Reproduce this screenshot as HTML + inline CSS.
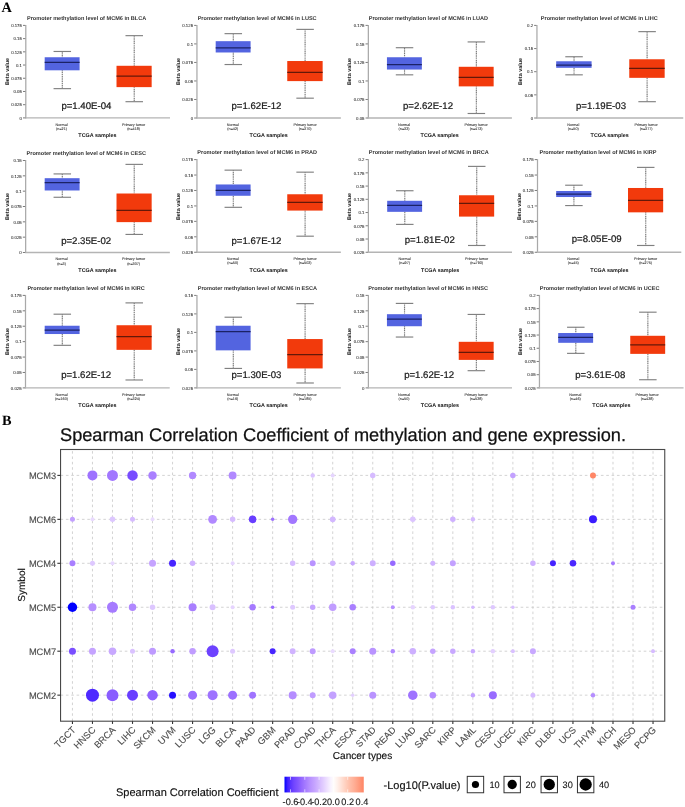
<!DOCTYPE html>
<html lang="en">
<head>
<meta charset="utf-8">
<title>Promoter methylation level of MCM6 and Spearman correlation</title>
<style>
html,body{margin:0;padding:0;background:#fff;}
body{width:685px;height:807px;overflow:hidden;font-family:"Liberation Sans",sans-serif;}
svg{display:block;}
text{font-family:"Liberation Sans",sans-serif;text-rendering:geometricPrecision;}
.bt{font-size:5.56px;font-weight:bold;fill:#333;}
.tk{font-size:4.3px;fill:#333;stroke:#333;stroke-width:0.08px;}
.ct{font-size:3.72px;fill:#333;stroke:#333;stroke-width:0.08px;}
.at{font-size:5.4px;font-weight:bold;fill:#1a1a1a;}
.ay{font-size:5.4px;font-weight:bold;fill:#1a1a1a;}
.pv{font-size:9.62px;fill:#1a1a1a;stroke:#1a1a1a;stroke-width:0.22px;}
.mt{font-size:18.2px;fill:#111;stroke:#111;stroke-width:0.25px;}
.ax{font-size:9.3px;fill:#4d4d4d;stroke:#4d4d4d;stroke-width:0.12px;}
.axx{font-size:9.3px;fill:#4d4d4d;stroke:#4d4d4d;stroke-width:0.12px;}
.al{font-size:10.1px;fill:#111;stroke:#111;stroke-width:0.15px;}
.lt{font-size:11px;fill:#111;stroke:#111;stroke-width:0.15px;}
.ll{font-size:9.2px;fill:#111;stroke:#111;stroke-width:0.1px;}
.pl{font-family:"Liberation Serif",serif;font-weight:bold;font-size:14.3px;fill:#000;}
</style>
</head>
<body>
<svg width="685" height="807" viewBox="0 0 685 807">
<rect width="685" height="807" fill="#fff"/>
<g class="bp">
<text class="bt" transform="translate(86.63 20.18) scale(1 1)" text-anchor="middle">Promoter methylation level of MCM6 in BLCA</text>
<line x1="25.8" y1="24.9" x2="25.8" y2="118.5" stroke="#a9a9a9" stroke-width="1.25"/>
<line x1="25.2" y1="117.9" x2="170" y2="117.9" stroke="#b4b4b4" stroke-width="1.3"/>
<line x1="23" y1="25.4" x2="25.3" y2="25.4" stroke="#5a5a5a" stroke-width="0.8"/>
<text class="tk" transform="translate(21.9 27.15) scale(1 1)" text-anchor="end">0.175</text>
<line x1="23" y1="38.61" x2="25.3" y2="38.61" stroke="#5a5a5a" stroke-width="0.8"/>
<text class="tk" transform="translate(21.9 40.36) scale(1 1)" text-anchor="end">0.15</text>
<line x1="23" y1="51.83" x2="25.3" y2="51.83" stroke="#5a5a5a" stroke-width="0.8"/>
<text class="tk" transform="translate(21.9 53.58) scale(1 1)" text-anchor="end">0.125</text>
<line x1="23" y1="65.04" x2="25.3" y2="65.04" stroke="#5a5a5a" stroke-width="0.8"/>
<text class="tk" transform="translate(21.9 66.79) scale(1 1)" text-anchor="end">0.1</text>
<line x1="23" y1="78.26" x2="25.3" y2="78.26" stroke="#5a5a5a" stroke-width="0.8"/>
<text class="tk" transform="translate(21.9 80.01) scale(1 1)" text-anchor="end">0.075</text>
<line x1="23" y1="91.47" x2="25.3" y2="91.47" stroke="#5a5a5a" stroke-width="0.8"/>
<text class="tk" transform="translate(21.9 93.22) scale(1 1)" text-anchor="end">0.05</text>
<line x1="23" y1="104.69" x2="25.3" y2="104.69" stroke="#5a5a5a" stroke-width="0.8"/>
<text class="tk" transform="translate(21.9 106.44) scale(1 1)" text-anchor="end">0.025</text>
<line x1="23" y1="117.9" x2="25.3" y2="117.9" stroke="#5a5a5a" stroke-width="0.8"/>
<text class="tk" transform="translate(21.9 119.65) scale(1 1)" text-anchor="end">0</text>
<line x1="62.3" y1="51.47" x2="62.3" y2="57.25" stroke="#7a7a7a" stroke-width="1.15" stroke-dasharray="1.2 0.6"/>
<line x1="62.3" y1="70.31" x2="62.3" y2="88.64" stroke="#7a7a7a" stroke-width="1.15" stroke-dasharray="1.2 0.6"/>
<line x1="53.55" y1="51.47" x2="71.05" y2="51.47" stroke="#808080" stroke-width="1.15"/>
<line x1="53.55" y1="88.64" x2="71.05" y2="88.64" stroke="#808080" stroke-width="1.15"/>
<rect x="44.69" y="57.25" width="34.9" height="13.06" fill="#5364e0"/>
<line x1="44.69" y1="62.27" x2="79.6" y2="62.27" stroke="#1b2266" stroke-width="1.25"/>
<line x1="134.23" y1="35.66" x2="134.23" y2="65.79" stroke="#7a7a7a" stroke-width="1.15" stroke-dasharray="1.2 0.6"/>
<line x1="134.23" y1="87.13" x2="134.23" y2="101.69" stroke="#7a7a7a" stroke-width="1.15" stroke-dasharray="1.2 0.6"/>
<line x1="125.48" y1="35.66" x2="142.98" y2="35.66" stroke="#808080" stroke-width="1.15"/>
<line x1="125.48" y1="101.69" x2="142.98" y2="101.69" stroke="#808080" stroke-width="1.15"/>
<rect x="116.51" y="65.79" width="35.15" height="21.34" fill="#f23a0c"/>
<line x1="116.51" y1="76.08" x2="151.66" y2="76.08" stroke="#641808" stroke-width="1.25"/>
<text class="pv" transform="translate(86.38 109.43) scale(1 1)" text-anchor="middle">p=1.40E-04</text>
<text class="ct" transform="translate(61.52 125.6) scale(1 1)" text-anchor="middle">Normal</text>
<text class="ct" transform="translate(61.52 130.1) scale(1 1)" text-anchor="middle">(n=21)</text>
<text class="ct" transform="translate(133.58 125.6) scale(1 1)" text-anchor="middle">Primary tumor</text>
<text class="ct" transform="translate(133.58 130.1) scale(1 1)" text-anchor="middle">(n=418)</text>
<text class="at" transform="translate(97.42 137.35) scale(1 1)" text-anchor="middle">TCGA samples</text>
<text class="ay" transform="translate(9.23 71.56) rotate(-90)" text-anchor="middle">Beta value</text>
</g>
<g class="bp">
<text class="bt" transform="translate(257.12 20.18) scale(1 1)" text-anchor="middle">Promoter methylation level of MCM6 in LUSC</text>
<line x1="196.95" y1="24.9" x2="196.95" y2="118.6" stroke="#a9a9a9" stroke-width="1.25"/>
<line x1="196.35" y1="118" x2="340.85" y2="118" stroke="#b4b4b4" stroke-width="1.3"/>
<line x1="194.15" y1="25.4" x2="196.45" y2="25.4" stroke="#5a5a5a" stroke-width="0.8"/>
<text class="tk" transform="translate(193.05 27.15) scale(1 1)" text-anchor="end">0.125</text>
<line x1="194.15" y1="43.92" x2="196.45" y2="43.92" stroke="#5a5a5a" stroke-width="0.8"/>
<text class="tk" transform="translate(193.05 45.67) scale(1 1)" text-anchor="end">0.1</text>
<line x1="194.15" y1="62.44" x2="196.45" y2="62.44" stroke="#5a5a5a" stroke-width="0.8"/>
<text class="tk" transform="translate(193.05 64.19) scale(1 1)" text-anchor="end">0.075</text>
<line x1="194.15" y1="80.96" x2="196.45" y2="80.96" stroke="#5a5a5a" stroke-width="0.8"/>
<text class="tk" transform="translate(193.05 82.71) scale(1 1)" text-anchor="end">0.05</text>
<line x1="194.15" y1="99.48" x2="196.45" y2="99.48" stroke="#5a5a5a" stroke-width="0.8"/>
<text class="tk" transform="translate(193.05 101.23) scale(1 1)" text-anchor="end">0.025</text>
<line x1="194.15" y1="118" x2="196.45" y2="118" stroke="#5a5a5a" stroke-width="0.8"/>
<text class="tk" transform="translate(193.05 119.75) scale(1 1)" text-anchor="end">0</text>
<line x1="233.29" y1="33.65" x2="233.29" y2="41.18" stroke="#7a7a7a" stroke-width="1.15" stroke-dasharray="1.2 0.6"/>
<line x1="233.29" y1="52.48" x2="233.29" y2="64.53" stroke="#7a7a7a" stroke-width="1.15" stroke-dasharray="1.2 0.6"/>
<line x1="224.54" y1="33.65" x2="242.04" y2="33.65" stroke="#808080" stroke-width="1.15"/>
<line x1="224.54" y1="64.53" x2="242.04" y2="64.53" stroke="#808080" stroke-width="1.15"/>
<rect x="215.69" y="41.18" width="34.9" height="11.3" fill="#5364e0"/>
<line x1="215.69" y1="47.96" x2="250.59" y2="47.96" stroke="#1b2266" stroke-width="1.25"/>
<line x1="305.1" y1="29.38" x2="305.1" y2="61.02" stroke="#7a7a7a" stroke-width="1.15" stroke-dasharray="1.2 0.6"/>
<line x1="305.1" y1="81.1" x2="305.1" y2="98.18" stroke="#7a7a7a" stroke-width="1.15" stroke-dasharray="1.2 0.6"/>
<line x1="296.35" y1="29.38" x2="313.85" y2="29.38" stroke="#808080" stroke-width="1.15"/>
<line x1="296.35" y1="98.18" x2="313.85" y2="98.18" stroke="#808080" stroke-width="1.15"/>
<rect x="287.25" y="61.02" width="35.4" height="20.09" fill="#f23a0c"/>
<line x1="287.25" y1="72.32" x2="322.66" y2="72.32" stroke="#641808" stroke-width="1.25"/>
<text class="pv" transform="translate(256.49 108.93) scale(1 1)" text-anchor="middle">p=1.62E-12</text>
<text class="ct" transform="translate(232.76 125.7) scale(1 1)" text-anchor="middle">Normal</text>
<text class="ct" transform="translate(232.76 130.2) scale(1 1)" text-anchor="middle">(n=42)</text>
<text class="ct" transform="translate(305.08 125.7) scale(1 1)" text-anchor="middle">Primary tumor</text>
<text class="ct" transform="translate(305.08 130.2) scale(1 1)" text-anchor="middle">(n=370)</text>
<text class="at" transform="translate(268.67 137.35) scale(1 1)" text-anchor="middle">TCGA samples</text>
<text class="ay" transform="translate(179.72 71.56) rotate(-90)" text-anchor="middle">Beta value</text>
</g>
<g class="bp">
<text class="bt" transform="translate(428.37 20.18) scale(1 1)" text-anchor="middle">Promoter methylation level of MCM6 in LUAD</text>
<line x1="368.35" y1="24.9" x2="368.35" y2="118.6" stroke="#a9a9a9" stroke-width="1.25"/>
<line x1="367.75" y1="118" x2="511.9" y2="118" stroke="#b4b4b4" stroke-width="1.3"/>
<line x1="365.55" y1="25.4" x2="367.85" y2="25.4" stroke="#5a5a5a" stroke-width="0.8"/>
<text class="tk" transform="translate(364.45 27.15) scale(1 1)" text-anchor="end">0.175</text>
<line x1="365.55" y1="43.92" x2="367.85" y2="43.92" stroke="#5a5a5a" stroke-width="0.8"/>
<text class="tk" transform="translate(364.45 45.67) scale(1 1)" text-anchor="end">0.15</text>
<line x1="365.55" y1="62.44" x2="367.85" y2="62.44" stroke="#5a5a5a" stroke-width="0.8"/>
<text class="tk" transform="translate(364.45 64.19) scale(1 1)" text-anchor="end">0.125</text>
<line x1="365.55" y1="80.96" x2="367.85" y2="80.96" stroke="#5a5a5a" stroke-width="0.8"/>
<text class="tk" transform="translate(364.45 82.71) scale(1 1)" text-anchor="end">0.1</text>
<line x1="365.55" y1="99.48" x2="367.85" y2="99.48" stroke="#5a5a5a" stroke-width="0.8"/>
<text class="tk" transform="translate(364.45 101.23) scale(1 1)" text-anchor="end">0.075</text>
<line x1="365.55" y1="118" x2="367.85" y2="118" stroke="#5a5a5a" stroke-width="0.8"/>
<text class="tk" transform="translate(364.45 119.75) scale(1 1)" text-anchor="end">0.05</text>
<line x1="404.54" y1="47.71" x2="404.54" y2="57.25" stroke="#7a7a7a" stroke-width="1.15" stroke-dasharray="1.2 0.6"/>
<line x1="404.54" y1="69.55" x2="404.54" y2="74.83" stroke="#7a7a7a" stroke-width="1.15" stroke-dasharray="1.2 0.6"/>
<line x1="395.79" y1="47.71" x2="413.29" y2="47.71" stroke="#808080" stroke-width="1.15"/>
<line x1="395.79" y1="74.83" x2="413.29" y2="74.83" stroke="#808080" stroke-width="1.15"/>
<rect x="386.94" y="57.25" width="34.9" height="12.3" fill="#5364e0"/>
<line x1="386.94" y1="64.53" x2="421.84" y2="64.53" stroke="#1b2266" stroke-width="1.25"/>
<line x1="476.36" y1="41.93" x2="476.36" y2="66.79" stroke="#7a7a7a" stroke-width="1.15" stroke-dasharray="1.2 0.6"/>
<line x1="476.36" y1="86.38" x2="476.36" y2="113.49" stroke="#7a7a7a" stroke-width="1.15" stroke-dasharray="1.2 0.6"/>
<line x1="467.61" y1="41.93" x2="485.11" y2="41.93" stroke="#808080" stroke-width="1.15"/>
<line x1="467.61" y1="113.49" x2="485.11" y2="113.49" stroke="#808080" stroke-width="1.15"/>
<rect x="458.75" y="66.79" width="34.9" height="19.59" fill="#f23a0c"/>
<line x1="458.75" y1="77.34" x2="493.66" y2="77.34" stroke="#641808" stroke-width="1.25"/>
<text class="pv" transform="translate(428 109.43) scale(1 1)" text-anchor="middle">p=2.62E-12</text>
<text class="ct" transform="translate(404.02 125.7) scale(1 1)" text-anchor="middle">Normal</text>
<text class="ct" transform="translate(404.02 130.2) scale(1 1)" text-anchor="middle">(n=32)</text>
<text class="ct" transform="translate(476.08 125.7) scale(1 1)" text-anchor="middle">Primary tumor</text>
<text class="ct" transform="translate(476.08 130.2) scale(1 1)" text-anchor="middle">(n=473)</text>
<text class="at" transform="translate(439.67 137.35) scale(1 1)" text-anchor="middle">TCGA samples</text>
<text class="ay" transform="translate(351.23 71.56) rotate(-90)" text-anchor="middle">Beta value</text>
</g>
<g class="bp">
<text class="bt" transform="translate(599.25 20.18) scale(1 1)" text-anchor="middle">Promoter methylation level of MCM6 in LIHC</text>
<line x1="536.95" y1="24.9" x2="536.95" y2="118.6" stroke="#a9a9a9" stroke-width="1.25"/>
<line x1="536.35" y1="118" x2="683.25" y2="118" stroke="#b4b4b4" stroke-width="1.3"/>
<line x1="534.15" y1="25.4" x2="536.45" y2="25.4" stroke="#5a5a5a" stroke-width="0.8"/>
<text class="tk" transform="translate(533.05 27.15) scale(1 1)" text-anchor="end">0.2</text>
<line x1="534.15" y1="48.55" x2="536.45" y2="48.55" stroke="#5a5a5a" stroke-width="0.8"/>
<text class="tk" transform="translate(533.05 50.3) scale(1 1)" text-anchor="end">0.15</text>
<line x1="534.15" y1="71.7" x2="536.45" y2="71.7" stroke="#5a5a5a" stroke-width="0.8"/>
<text class="tk" transform="translate(533.05 73.45) scale(1 1)" text-anchor="end">0.1</text>
<line x1="534.15" y1="94.85" x2="536.45" y2="94.85" stroke="#5a5a5a" stroke-width="0.8"/>
<text class="tk" transform="translate(533.05 96.6) scale(1 1)" text-anchor="end">0.05</text>
<line x1="534.15" y1="118" x2="536.45" y2="118" stroke="#5a5a5a" stroke-width="0.8"/>
<text class="tk" transform="translate(533.05 119.75) scale(1 1)" text-anchor="end">0</text>
<line x1="574.04" y1="56.75" x2="574.04" y2="61.27" stroke="#7a7a7a" stroke-width="1.15" stroke-dasharray="1.2 0.6"/>
<line x1="574.04" y1="67.8" x2="574.04" y2="74.83" stroke="#7a7a7a" stroke-width="1.15" stroke-dasharray="1.2 0.6"/>
<line x1="565.29" y1="56.75" x2="582.79" y2="56.75" stroke="#808080" stroke-width="1.15"/>
<line x1="565.29" y1="74.83" x2="582.79" y2="74.83" stroke="#808080" stroke-width="1.15"/>
<rect x="556.19" y="61.27" width="35.4" height="6.53" fill="#5364e0"/>
<line x1="556.19" y1="65.03" x2="591.59" y2="65.03" stroke="#1b2266" stroke-width="1.25"/>
<line x1="647.11" y1="31.64" x2="647.11" y2="59.26" stroke="#7a7a7a" stroke-width="1.15" stroke-dasharray="1.2 0.6"/>
<line x1="647.11" y1="77.84" x2="647.11" y2="101.69" stroke="#7a7a7a" stroke-width="1.15" stroke-dasharray="1.2 0.6"/>
<line x1="638.36" y1="31.64" x2="655.86" y2="31.64" stroke="#808080" stroke-width="1.15"/>
<line x1="638.36" y1="101.69" x2="655.86" y2="101.69" stroke="#808080" stroke-width="1.15"/>
<rect x="629.26" y="59.26" width="35.4" height="18.58" fill="#f23a0c"/>
<line x1="629.26" y1="68.3" x2="664.66" y2="68.3" stroke="#641808" stroke-width="1.25"/>
<text class="pv" transform="translate(601.01 109.43) scale(1 1)" text-anchor="middle">p=1.19E-03</text>
<text class="ct" transform="translate(573.26 125.7) scale(1 1)" text-anchor="middle">Normal</text>
<text class="ct" transform="translate(573.26 130.2) scale(1 1)" text-anchor="middle">(n=50)</text>
<text class="ct" transform="translate(646.08 125.7) scale(1 1)" text-anchor="middle">Primary tumor</text>
<text class="ct" transform="translate(646.08 130.2) scale(1 1)" text-anchor="middle">(n=377)</text>
<text class="at" transform="translate(609.67 137.35) scale(1 1)" text-anchor="middle">TCGA samples</text>
<text class="ay" transform="translate(522.23 71.56) rotate(-90)" text-anchor="middle">Beta value</text>
</g>
<g class="bp">
<text class="bt" transform="translate(86.25 154.68) scale(1 1)" text-anchor="middle">Promoter methylation level of MCM6 in CESC</text>
<line x1="25.65" y1="160" x2="25.65" y2="253.1" stroke="#a9a9a9" stroke-width="1.25"/>
<line x1="25.05" y1="252.5" x2="169.85" y2="252.5" stroke="#b4b4b4" stroke-width="1.3"/>
<line x1="22.85" y1="160.5" x2="25.15" y2="160.5" stroke="#5a5a5a" stroke-width="0.8"/>
<text class="tk" transform="translate(21.75 162.25) scale(1 1)" text-anchor="end">0.15</text>
<line x1="22.85" y1="175.83" x2="25.15" y2="175.83" stroke="#5a5a5a" stroke-width="0.8"/>
<text class="tk" transform="translate(21.75 177.58) scale(1 1)" text-anchor="end">0.125</text>
<line x1="22.85" y1="191.17" x2="25.15" y2="191.17" stroke="#5a5a5a" stroke-width="0.8"/>
<text class="tk" transform="translate(21.75 192.92) scale(1 1)" text-anchor="end">0.1</text>
<line x1="22.85" y1="206.5" x2="25.15" y2="206.5" stroke="#5a5a5a" stroke-width="0.8"/>
<text class="tk" transform="translate(21.75 208.25) scale(1 1)" text-anchor="end">0.075</text>
<line x1="22.85" y1="221.83" x2="25.15" y2="221.83" stroke="#5a5a5a" stroke-width="0.8"/>
<text class="tk" transform="translate(21.75 223.58) scale(1 1)" text-anchor="end">0.05</text>
<line x1="22.85" y1="237.17" x2="25.15" y2="237.17" stroke="#5a5a5a" stroke-width="0.8"/>
<text class="tk" transform="translate(21.75 238.92) scale(1 1)" text-anchor="end">0.025</text>
<line x1="22.85" y1="252.5" x2="25.15" y2="252.5" stroke="#5a5a5a" stroke-width="0.8"/>
<text class="tk" transform="translate(21.75 254.25) scale(1 1)" text-anchor="end">0</text>
<line x1="62.3" y1="173.92" x2="62.3" y2="178.19" stroke="#7a7a7a" stroke-width="1.15" stroke-dasharray="1.2 0.6"/>
<line x1="62.3" y1="190.49" x2="62.3" y2="197.27" stroke="#7a7a7a" stroke-width="1.15" stroke-dasharray="1.2 0.6"/>
<line x1="53.55" y1="173.92" x2="71.05" y2="173.92" stroke="#808080" stroke-width="1.15"/>
<line x1="53.55" y1="197.27" x2="71.05" y2="197.27" stroke="#808080" stroke-width="1.15"/>
<rect x="44.69" y="178.19" width="34.9" height="12.3" fill="#5364e0"/>
<line x1="44.69" y1="182.61" x2="79.6" y2="182.61" stroke="#1b2266" stroke-width="1.25"/>
<line x1="134.23" y1="164.38" x2="134.23" y2="193.51" stroke="#7a7a7a" stroke-width="1.15" stroke-dasharray="1.2 0.6"/>
<line x1="134.23" y1="222.13" x2="134.23" y2="234.43" stroke="#7a7a7a" stroke-width="1.15" stroke-dasharray="1.2 0.6"/>
<line x1="125.48" y1="164.38" x2="142.98" y2="164.38" stroke="#808080" stroke-width="1.15"/>
<line x1="125.48" y1="234.43" x2="142.98" y2="234.43" stroke="#808080" stroke-width="1.15"/>
<rect x="116.51" y="193.51" width="35.15" height="28.62" fill="#f23a0c"/>
<line x1="116.51" y1="210.33" x2="151.66" y2="210.33" stroke="#641808" stroke-width="1.25"/>
<text class="pv" transform="translate(86.13 244.43) scale(1 1)" text-anchor="middle">p=2.35E-02</text>
<text class="ct" transform="translate(61.52 260.2) scale(1 1)" text-anchor="middle">Normal</text>
<text class="ct" transform="translate(61.52 264.7) scale(1 1)" text-anchor="middle">(n=3)</text>
<text class="ct" transform="translate(133.58 260.2) scale(1 1)" text-anchor="middle">Primary tumor</text>
<text class="ct" transform="translate(133.58 264.7) scale(1 1)" text-anchor="middle">(n=307)</text>
<text class="at" transform="translate(97.42 272.35) scale(1 1)" text-anchor="middle">TCGA samples</text>
<text class="ay" transform="translate(9.23 206.56) rotate(-90)" text-anchor="middle">Beta value</text>
</g>
<g class="bp">
<text class="bt" transform="translate(257.12 154.17) scale(1 1)" text-anchor="middle">Promoter methylation level of MCM6 in PRAD</text>
<line x1="196.95" y1="159.1" x2="196.95" y2="252.85" stroke="#a9a9a9" stroke-width="1.25"/>
<line x1="196.35" y1="252.25" x2="340.85" y2="252.25" stroke="#b4b4b4" stroke-width="1.3"/>
<line x1="194.15" y1="159.6" x2="196.45" y2="159.6" stroke="#5a5a5a" stroke-width="0.8"/>
<text class="tk" transform="translate(193.05 161.35) scale(1 1)" text-anchor="end">0.175</text>
<line x1="194.15" y1="175.04" x2="196.45" y2="175.04" stroke="#5a5a5a" stroke-width="0.8"/>
<text class="tk" transform="translate(193.05 176.79) scale(1 1)" text-anchor="end">0.15</text>
<line x1="194.15" y1="190.48" x2="196.45" y2="190.48" stroke="#5a5a5a" stroke-width="0.8"/>
<text class="tk" transform="translate(193.05 192.23) scale(1 1)" text-anchor="end">0.125</text>
<line x1="194.15" y1="205.93" x2="196.45" y2="205.93" stroke="#5a5a5a" stroke-width="0.8"/>
<text class="tk" transform="translate(193.05 207.68) scale(1 1)" text-anchor="end">0.1</text>
<line x1="194.15" y1="221.37" x2="196.45" y2="221.37" stroke="#5a5a5a" stroke-width="0.8"/>
<text class="tk" transform="translate(193.05 223.12) scale(1 1)" text-anchor="end">0.075</text>
<line x1="194.15" y1="236.81" x2="196.45" y2="236.81" stroke="#5a5a5a" stroke-width="0.8"/>
<text class="tk" transform="translate(193.05 238.56) scale(1 1)" text-anchor="end">0.05</text>
<line x1="194.15" y1="252.25" x2="196.45" y2="252.25" stroke="#5a5a5a" stroke-width="0.8"/>
<text class="tk" transform="translate(193.05 254) scale(1 1)" text-anchor="end">0.025</text>
<line x1="233.29" y1="170.15" x2="233.29" y2="184.47" stroke="#7a7a7a" stroke-width="1.15" stroke-dasharray="1.2 0.6"/>
<line x1="233.29" y1="195.76" x2="233.29" y2="207.32" stroke="#7a7a7a" stroke-width="1.15" stroke-dasharray="1.2 0.6"/>
<line x1="224.54" y1="170.15" x2="242.04" y2="170.15" stroke="#808080" stroke-width="1.15"/>
<line x1="224.54" y1="207.32" x2="242.04" y2="207.32" stroke="#808080" stroke-width="1.15"/>
<rect x="215.69" y="184.47" width="34.9" height="11.3" fill="#5364e0"/>
<line x1="215.69" y1="190.49" x2="250.59" y2="190.49" stroke="#1b2266" stroke-width="1.25"/>
<line x1="305.1" y1="172.16" x2="305.1" y2="194.26" stroke="#7a7a7a" stroke-width="1.15" stroke-dasharray="1.2 0.6"/>
<line x1="305.1" y1="210.58" x2="305.1" y2="236.19" stroke="#7a7a7a" stroke-width="1.15" stroke-dasharray="1.2 0.6"/>
<line x1="296.35" y1="172.16" x2="313.85" y2="172.16" stroke="#808080" stroke-width="1.15"/>
<line x1="296.35" y1="236.19" x2="313.85" y2="236.19" stroke="#808080" stroke-width="1.15"/>
<rect x="287.25" y="194.26" width="35.4" height="16.32" fill="#f23a0c"/>
<line x1="287.25" y1="202.29" x2="322.66" y2="202.29" stroke="#641808" stroke-width="1.25"/>
<text class="pv" transform="translate(256.49 243.93) scale(1 1)" text-anchor="middle">p=1.67E-12</text>
<text class="ct" transform="translate(232.76 259.95) scale(1 1)" text-anchor="middle">Normal</text>
<text class="ct" transform="translate(232.76 264.45) scale(1 1)" text-anchor="middle">(n=50)</text>
<text class="ct" transform="translate(305.08 259.95) scale(1 1)" text-anchor="middle">Primary tumor</text>
<text class="ct" transform="translate(305.08 264.45) scale(1 1)" text-anchor="middle">(n=502)</text>
<text class="at" transform="translate(268.67 271.85) scale(1 1)" text-anchor="middle">TCGA samples</text>
<text class="ay" transform="translate(179.72 206.56) rotate(-90)" text-anchor="middle">Beta value</text>
</g>
<g class="bp">
<text class="bt" transform="translate(428.75 154.17) scale(1 1)" text-anchor="middle">Promoter methylation level of MCM6 in BRCA</text>
<line x1="368.4" y1="159.1" x2="368.4" y2="252.85" stroke="#a9a9a9" stroke-width="1.25"/>
<line x1="367.8" y1="252.25" x2="512" y2="252.25" stroke="#b4b4b4" stroke-width="1.3"/>
<line x1="365.6" y1="159.6" x2="367.9" y2="159.6" stroke="#5a5a5a" stroke-width="0.8"/>
<text class="tk" transform="translate(364.5 161.35) scale(1 1)" text-anchor="end">0.2</text>
<line x1="365.6" y1="172.84" x2="367.9" y2="172.84" stroke="#5a5a5a" stroke-width="0.8"/>
<text class="tk" transform="translate(364.5 174.59) scale(1 1)" text-anchor="end">0.175</text>
<line x1="365.6" y1="186.07" x2="367.9" y2="186.07" stroke="#5a5a5a" stroke-width="0.8"/>
<text class="tk" transform="translate(364.5 187.82) scale(1 1)" text-anchor="end">0.15</text>
<line x1="365.6" y1="199.31" x2="367.9" y2="199.31" stroke="#5a5a5a" stroke-width="0.8"/>
<text class="tk" transform="translate(364.5 201.06) scale(1 1)" text-anchor="end">0.125</text>
<line x1="365.6" y1="212.54" x2="367.9" y2="212.54" stroke="#5a5a5a" stroke-width="0.8"/>
<text class="tk" transform="translate(364.5 214.29) scale(1 1)" text-anchor="end">0.1</text>
<line x1="365.6" y1="225.78" x2="367.9" y2="225.78" stroke="#5a5a5a" stroke-width="0.8"/>
<text class="tk" transform="translate(364.5 227.53) scale(1 1)" text-anchor="end">0.075</text>
<line x1="365.6" y1="239.01" x2="367.9" y2="239.01" stroke="#5a5a5a" stroke-width="0.8"/>
<text class="tk" transform="translate(364.5 240.76) scale(1 1)" text-anchor="end">0.05</text>
<line x1="365.6" y1="252.25" x2="367.9" y2="252.25" stroke="#5a5a5a" stroke-width="0.8"/>
<text class="tk" transform="translate(364.5 254) scale(1 1)" text-anchor="end">0.025</text>
<line x1="404.79" y1="190.74" x2="404.79" y2="200.79" stroke="#7a7a7a" stroke-width="1.15" stroke-dasharray="1.2 0.6"/>
<line x1="404.79" y1="211.84" x2="404.79" y2="224.39" stroke="#7a7a7a" stroke-width="1.15" stroke-dasharray="1.2 0.6"/>
<line x1="396.04" y1="190.74" x2="413.54" y2="190.74" stroke="#808080" stroke-width="1.15"/>
<line x1="396.04" y1="224.39" x2="413.54" y2="224.39" stroke="#808080" stroke-width="1.15"/>
<rect x="387.19" y="200.79" width="34.9" height="11.05" fill="#5364e0"/>
<line x1="387.19" y1="205.31" x2="422.09" y2="205.31" stroke="#1b2266" stroke-width="1.25"/>
<line x1="476.73" y1="166.39" x2="476.73" y2="195.26" stroke="#7a7a7a" stroke-width="1.15" stroke-dasharray="1.2 0.6"/>
<line x1="476.73" y1="216.61" x2="476.73" y2="245.48" stroke="#7a7a7a" stroke-width="1.15" stroke-dasharray="1.2 0.6"/>
<line x1="467.98" y1="166.39" x2="485.48" y2="166.39" stroke="#808080" stroke-width="1.15"/>
<line x1="467.98" y1="245.48" x2="485.48" y2="245.48" stroke="#808080" stroke-width="1.15"/>
<rect x="459.01" y="195.26" width="35.15" height="21.34" fill="#f23a0c"/>
<line x1="459.01" y1="203.3" x2="494.16" y2="203.3" stroke="#641808" stroke-width="1.25"/>
<text class="pv" transform="translate(429.75 242.67) scale(1 1)" text-anchor="middle">p=1.81E-02</text>
<text class="ct" transform="translate(404.52 259.95) scale(1 1)" text-anchor="middle">Normal</text>
<text class="ct" transform="translate(404.52 264.45) scale(1 1)" text-anchor="middle">(n=97)</text>
<text class="ct" transform="translate(476.58 259.95) scale(1 1)" text-anchor="middle">Primary tumor</text>
<text class="ct" transform="translate(476.58 264.45) scale(1 1)" text-anchor="middle">(n=793)</text>
<text class="at" transform="translate(440.17 271.85) scale(1 1)" text-anchor="middle">TCGA samples</text>
<text class="ay" transform="translate(351.23 206.56) rotate(-90)" text-anchor="middle">Beta value</text>
</g>
<g class="bp">
<text class="bt" transform="translate(598 154.17) scale(1 1)" text-anchor="middle">Promoter methylation level of MCM6 in KIRP</text>
<line x1="537.5" y1="159.1" x2="537.5" y2="252.85" stroke="#a9a9a9" stroke-width="1.25"/>
<line x1="536.9" y1="252.25" x2="681.3" y2="252.25" stroke="#b4b4b4" stroke-width="1.3"/>
<line x1="534.7" y1="159.6" x2="537" y2="159.6" stroke="#5a5a5a" stroke-width="0.8"/>
<text class="tk" transform="translate(533.6 161.35) scale(1 1)" text-anchor="end">0.175</text>
<line x1="534.7" y1="175.04" x2="537" y2="175.04" stroke="#5a5a5a" stroke-width="0.8"/>
<text class="tk" transform="translate(533.6 176.79) scale(1 1)" text-anchor="end">0.15</text>
<line x1="534.7" y1="190.48" x2="537" y2="190.48" stroke="#5a5a5a" stroke-width="0.8"/>
<text class="tk" transform="translate(533.6 192.23) scale(1 1)" text-anchor="end">0.125</text>
<line x1="534.7" y1="205.93" x2="537" y2="205.93" stroke="#5a5a5a" stroke-width="0.8"/>
<text class="tk" transform="translate(533.6 207.68) scale(1 1)" text-anchor="end">0.1</text>
<line x1="534.7" y1="221.37" x2="537" y2="221.37" stroke="#5a5a5a" stroke-width="0.8"/>
<text class="tk" transform="translate(533.6 223.12) scale(1 1)" text-anchor="end">0.075</text>
<line x1="534.7" y1="236.81" x2="537" y2="236.81" stroke="#5a5a5a" stroke-width="0.8"/>
<text class="tk" transform="translate(533.6 238.56) scale(1 1)" text-anchor="end">0.05</text>
<line x1="534.7" y1="252.25" x2="537" y2="252.25" stroke="#5a5a5a" stroke-width="0.8"/>
<text class="tk" transform="translate(533.6 254) scale(1 1)" text-anchor="end">0.025</text>
<line x1="573.91" y1="185.22" x2="573.91" y2="190.99" stroke="#7a7a7a" stroke-width="1.15" stroke-dasharray="1.2 0.6"/>
<line x1="573.91" y1="197.02" x2="573.91" y2="205.56" stroke="#7a7a7a" stroke-width="1.15" stroke-dasharray="1.2 0.6"/>
<line x1="565.16" y1="185.22" x2="582.66" y2="185.22" stroke="#808080" stroke-width="1.15"/>
<line x1="565.16" y1="205.56" x2="582.66" y2="205.56" stroke="#808080" stroke-width="1.15"/>
<rect x="556.19" y="190.99" width="35.15" height="6.03" fill="#5364e0"/>
<line x1="556.19" y1="194.01" x2="591.34" y2="194.01" stroke="#1b2266" stroke-width="1.25"/>
<line x1="645.73" y1="167.39" x2="645.73" y2="187.98" stroke="#7a7a7a" stroke-width="1.15" stroke-dasharray="1.2 0.6"/>
<line x1="645.73" y1="212.34" x2="645.73" y2="245.48" stroke="#7a7a7a" stroke-width="1.15" stroke-dasharray="1.2 0.6"/>
<line x1="636.98" y1="167.39" x2="654.48" y2="167.39" stroke="#808080" stroke-width="1.15"/>
<line x1="636.98" y1="245.48" x2="654.48" y2="245.48" stroke="#808080" stroke-width="1.15"/>
<rect x="628" y="187.98" width="35.15" height="24.36" fill="#f23a0c"/>
<line x1="628" y1="200.28" x2="663.15" y2="200.28" stroke="#641808" stroke-width="1.25"/>
<text class="pv" transform="translate(596.74 242.17) scale(1 1)" text-anchor="middle">p=8.05E-09</text>
<text class="ct" transform="translate(573.26 259.95) scale(1 1)" text-anchor="middle">Normal</text>
<text class="ct" transform="translate(573.26 264.45) scale(1 1)" text-anchor="middle">(n=45)</text>
<text class="ct" transform="translate(645.58 259.95) scale(1 1)" text-anchor="middle">Primary tumor</text>
<text class="ct" transform="translate(645.58 264.45) scale(1 1)" text-anchor="middle">(n=275)</text>
<text class="at" transform="translate(609.42 271.85) scale(1 1)" text-anchor="middle">TCGA samples</text>
<text class="ay" transform="translate(520.72 206.56) rotate(-90)" text-anchor="middle">Beta value</text>
</g>
<g class="bp">
<text class="bt" transform="translate(86.13 290.18) scale(1 1)" text-anchor="middle">Promoter methylation level of MCM6 in KIRC</text>
<line x1="25.5" y1="294.9" x2="25.5" y2="388.5" stroke="#a9a9a9" stroke-width="1.25"/>
<line x1="24.9" y1="387.9" x2="169.7" y2="387.9" stroke="#b4b4b4" stroke-width="1.3"/>
<line x1="22.7" y1="295.4" x2="25" y2="295.4" stroke="#5a5a5a" stroke-width="0.8"/>
<text class="tk" transform="translate(21.6 297.15) scale(1 1)" text-anchor="end">0.175</text>
<line x1="22.7" y1="310.82" x2="25" y2="310.82" stroke="#5a5a5a" stroke-width="0.8"/>
<text class="tk" transform="translate(21.6 312.57) scale(1 1)" text-anchor="end">0.15</text>
<line x1="22.7" y1="326.23" x2="25" y2="326.23" stroke="#5a5a5a" stroke-width="0.8"/>
<text class="tk" transform="translate(21.6 327.98) scale(1 1)" text-anchor="end">0.125</text>
<line x1="22.7" y1="341.65" x2="25" y2="341.65" stroke="#5a5a5a" stroke-width="0.8"/>
<text class="tk" transform="translate(21.6 343.4) scale(1 1)" text-anchor="end">0.1</text>
<line x1="22.7" y1="357.07" x2="25" y2="357.07" stroke="#5a5a5a" stroke-width="0.8"/>
<text class="tk" transform="translate(21.6 358.82) scale(1 1)" text-anchor="end">0.075</text>
<line x1="22.7" y1="372.48" x2="25" y2="372.48" stroke="#5a5a5a" stroke-width="0.8"/>
<text class="tk" transform="translate(21.6 374.23) scale(1 1)" text-anchor="end">0.05</text>
<line x1="22.7" y1="387.9" x2="25" y2="387.9" stroke="#5a5a5a" stroke-width="0.8"/>
<text class="tk" transform="translate(21.6 389.65) scale(1 1)" text-anchor="end">0.025</text>
<line x1="62.3" y1="314.19" x2="62.3" y2="325.74" stroke="#7a7a7a" stroke-width="1.15" stroke-dasharray="1.2 0.6"/>
<line x1="62.3" y1="334.03" x2="62.3" y2="345.33" stroke="#7a7a7a" stroke-width="1.15" stroke-dasharray="1.2 0.6"/>
<line x1="53.55" y1="314.19" x2="71.05" y2="314.19" stroke="#808080" stroke-width="1.15"/>
<line x1="53.55" y1="345.33" x2="71.05" y2="345.33" stroke="#808080" stroke-width="1.15"/>
<rect x="44.69" y="325.74" width="34.9" height="8.29" fill="#5364e0"/>
<line x1="44.69" y1="330.01" x2="79.6" y2="330.01" stroke="#1b2266" stroke-width="1.25"/>
<line x1="134.23" y1="302.89" x2="134.23" y2="325.24" stroke="#7a7a7a" stroke-width="1.15" stroke-dasharray="1.2 0.6"/>
<line x1="134.23" y1="349.85" x2="134.23" y2="379.98" stroke="#7a7a7a" stroke-width="1.15" stroke-dasharray="1.2 0.6"/>
<line x1="125.48" y1="302.89" x2="142.98" y2="302.89" stroke="#808080" stroke-width="1.15"/>
<line x1="125.48" y1="379.98" x2="142.98" y2="379.98" stroke="#808080" stroke-width="1.15"/>
<rect x="116.51" y="325.24" width="35.15" height="24.61" fill="#f23a0c"/>
<line x1="116.51" y1="336.54" x2="151.66" y2="336.54" stroke="#641808" stroke-width="1.25"/>
<text class="pv" transform="translate(86.13 377.92) scale(1 1)" text-anchor="middle">p=1.62E-12</text>
<text class="ct" transform="translate(61.52 395.6) scale(1 1)" text-anchor="middle">Normal</text>
<text class="ct" transform="translate(61.52 400.1) scale(1 1)" text-anchor="middle">(n=160)</text>
<text class="ct" transform="translate(133.58 395.6) scale(1 1)" text-anchor="middle">Primary tumor</text>
<text class="ct" transform="translate(133.58 400.1) scale(1 1)" text-anchor="middle">(n=324)</text>
<text class="at" transform="translate(97.42 407.35) scale(1 1)" text-anchor="middle">TCGA samples</text>
<text class="ay" transform="translate(9.23 341.56) rotate(-90)" text-anchor="middle">Beta value</text>
</g>
<g class="bp">
<text class="bt" transform="translate(257.37 290.18) scale(1 1)" text-anchor="middle">Promoter methylation level of MCM6 in ESCA</text>
<line x1="196.95" y1="294.9" x2="196.95" y2="388.5" stroke="#a9a9a9" stroke-width="1.25"/>
<line x1="196.35" y1="387.9" x2="340.85" y2="387.9" stroke="#b4b4b4" stroke-width="1.3"/>
<line x1="194.15" y1="295.4" x2="196.45" y2="295.4" stroke="#5a5a5a" stroke-width="0.8"/>
<text class="tk" transform="translate(193.05 297.15) scale(1 1)" text-anchor="end">0.15</text>
<line x1="194.15" y1="313.9" x2="196.45" y2="313.9" stroke="#5a5a5a" stroke-width="0.8"/>
<text class="tk" transform="translate(193.05 315.65) scale(1 1)" text-anchor="end">0.125</text>
<line x1="194.15" y1="332.4" x2="196.45" y2="332.4" stroke="#5a5a5a" stroke-width="0.8"/>
<text class="tk" transform="translate(193.05 334.15) scale(1 1)" text-anchor="end">0.1</text>
<line x1="194.15" y1="350.9" x2="196.45" y2="350.9" stroke="#5a5a5a" stroke-width="0.8"/>
<text class="tk" transform="translate(193.05 352.65) scale(1 1)" text-anchor="end">0.075</text>
<line x1="194.15" y1="369.4" x2="196.45" y2="369.4" stroke="#5a5a5a" stroke-width="0.8"/>
<text class="tk" transform="translate(193.05 371.15) scale(1 1)" text-anchor="end">0.05</text>
<line x1="194.15" y1="387.9" x2="196.45" y2="387.9" stroke="#5a5a5a" stroke-width="0.8"/>
<text class="tk" transform="translate(193.05 389.65) scale(1 1)" text-anchor="end">0.025</text>
<line x1="233.29" y1="317.21" x2="233.29" y2="325.74" stroke="#7a7a7a" stroke-width="1.15" stroke-dasharray="1.2 0.6"/>
<line x1="233.29" y1="350.35" x2="233.29" y2="368.43" stroke="#7a7a7a" stroke-width="1.15" stroke-dasharray="1.2 0.6"/>
<line x1="224.54" y1="317.21" x2="242.04" y2="317.21" stroke="#808080" stroke-width="1.15"/>
<line x1="224.54" y1="368.43" x2="242.04" y2="368.43" stroke="#808080" stroke-width="1.15"/>
<rect x="215.69" y="325.74" width="34.9" height="24.61" fill="#5364e0"/>
<line x1="215.69" y1="331.52" x2="250.59" y2="331.52" stroke="#1b2266" stroke-width="1.25"/>
<line x1="305.1" y1="303.65" x2="305.1" y2="339.05" stroke="#7a7a7a" stroke-width="1.15" stroke-dasharray="1.2 0.6"/>
<line x1="305.1" y1="368.43" x2="305.1" y2="382.99" stroke="#7a7a7a" stroke-width="1.15" stroke-dasharray="1.2 0.6"/>
<line x1="296.35" y1="303.65" x2="313.85" y2="303.65" stroke="#808080" stroke-width="1.15"/>
<line x1="296.35" y1="382.99" x2="313.85" y2="382.99" stroke="#808080" stroke-width="1.15"/>
<rect x="287.25" y="339.05" width="35.4" height="29.38" fill="#f23a0c"/>
<line x1="287.25" y1="354.62" x2="322.66" y2="354.62" stroke="#641808" stroke-width="1.25"/>
<text class="pv" transform="translate(256.49 378.42) scale(1 1)" text-anchor="middle">p=1.30E-03</text>
<text class="ct" transform="translate(232.76 395.6) scale(1 1)" text-anchor="middle">Normal</text>
<text class="ct" transform="translate(232.76 400.1) scale(1 1)" text-anchor="middle">(n=16)</text>
<text class="ct" transform="translate(305.08 395.6) scale(1 1)" text-anchor="middle">Primary tumor</text>
<text class="ct" transform="translate(305.08 400.1) scale(1 1)" text-anchor="middle">(n=185)</text>
<text class="at" transform="translate(268.67 407.35) scale(1 1)" text-anchor="middle">TCGA samples</text>
<text class="ay" transform="translate(179.72 341.56) rotate(-90)" text-anchor="middle">Beta value</text>
</g>
<g class="bp">
<text class="bt" transform="translate(428.12 290.18) scale(1 1)" text-anchor="middle">Promoter methylation level of MCM6 in HNSC</text>
<line x1="368.4" y1="294.9" x2="368.4" y2="388.5" stroke="#a9a9a9" stroke-width="1.25"/>
<line x1="367.8" y1="387.9" x2="512" y2="387.9" stroke="#b4b4b4" stroke-width="1.3"/>
<line x1="365.6" y1="295.4" x2="367.9" y2="295.4" stroke="#5a5a5a" stroke-width="0.8"/>
<text class="tk" transform="translate(364.5 297.15) scale(1 1)" text-anchor="end">0.15</text>
<line x1="365.6" y1="310.82" x2="367.9" y2="310.82" stroke="#5a5a5a" stroke-width="0.8"/>
<text class="tk" transform="translate(364.5 312.57) scale(1 1)" text-anchor="end">0.125</text>
<line x1="365.6" y1="326.23" x2="367.9" y2="326.23" stroke="#5a5a5a" stroke-width="0.8"/>
<text class="tk" transform="translate(364.5 327.98) scale(1 1)" text-anchor="end">0.1</text>
<line x1="365.6" y1="341.65" x2="367.9" y2="341.65" stroke="#5a5a5a" stroke-width="0.8"/>
<text class="tk" transform="translate(364.5 343.4) scale(1 1)" text-anchor="end">0.075</text>
<line x1="365.6" y1="357.07" x2="367.9" y2="357.07" stroke="#5a5a5a" stroke-width="0.8"/>
<text class="tk" transform="translate(364.5 358.82) scale(1 1)" text-anchor="end">0.05</text>
<line x1="365.6" y1="372.48" x2="367.9" y2="372.48" stroke="#5a5a5a" stroke-width="0.8"/>
<text class="tk" transform="translate(364.5 374.23) scale(1 1)" text-anchor="end">0.025</text>
<line x1="365.6" y1="387.9" x2="367.9" y2="387.9" stroke="#5a5a5a" stroke-width="0.8"/>
<text class="tk" transform="translate(364.5 389.65) scale(1 1)" text-anchor="end">0</text>
<line x1="404.54" y1="303.4" x2="404.54" y2="314.19" stroke="#7a7a7a" stroke-width="1.15" stroke-dasharray="1.2 0.6"/>
<line x1="404.54" y1="326.25" x2="404.54" y2="337.04" stroke="#7a7a7a" stroke-width="1.15" stroke-dasharray="1.2 0.6"/>
<line x1="395.79" y1="303.4" x2="413.29" y2="303.4" stroke="#808080" stroke-width="1.15"/>
<line x1="395.79" y1="337.04" x2="413.29" y2="337.04" stroke="#808080" stroke-width="1.15"/>
<rect x="386.94" y="314.19" width="34.9" height="12.05" fill="#5364e0"/>
<line x1="386.94" y1="319.21" x2="421.84" y2="319.21" stroke="#1b2266" stroke-width="1.25"/>
<line x1="476.36" y1="314.44" x2="476.36" y2="341.81" stroke="#7a7a7a" stroke-width="1.15" stroke-dasharray="1.2 0.6"/>
<line x1="476.36" y1="359.89" x2="476.36" y2="370.69" stroke="#7a7a7a" stroke-width="1.15" stroke-dasharray="1.2 0.6"/>
<line x1="467.61" y1="314.44" x2="485.11" y2="314.44" stroke="#808080" stroke-width="1.15"/>
<line x1="467.61" y1="370.69" x2="485.11" y2="370.69" stroke="#808080" stroke-width="1.15"/>
<rect x="458.75" y="341.81" width="34.9" height="18.08" fill="#f23a0c"/>
<line x1="458.75" y1="352.36" x2="493.66" y2="352.36" stroke="#641808" stroke-width="1.25"/>
<text class="pv" transform="translate(429.13 378.42) scale(1 1)" text-anchor="middle">p=1.62E-12</text>
<text class="ct" transform="translate(404.02 395.6) scale(1 1)" text-anchor="middle">Normal</text>
<text class="ct" transform="translate(404.02 400.1) scale(1 1)" text-anchor="middle">(n=50)</text>
<text class="ct" transform="translate(476.08 395.6) scale(1 1)" text-anchor="middle">Primary tumor</text>
<text class="ct" transform="translate(476.08 400.1) scale(1 1)" text-anchor="middle">(n=528)</text>
<text class="at" transform="translate(439.92 407.35) scale(1 1)" text-anchor="middle">TCGA samples</text>
<text class="ay" transform="translate(351.23 341.56) rotate(-90)" text-anchor="middle">Beta value</text>
</g>
<g class="bp">
<text class="bt" transform="translate(599.63 290.18) scale(1 1)" text-anchor="middle">Promoter methylation level of MCM6 in UCEC</text>
<line x1="539.45" y1="294.9" x2="539.45" y2="388.5" stroke="#a9a9a9" stroke-width="1.25"/>
<line x1="538.85" y1="387.9" x2="683.55" y2="387.9" stroke="#b4b4b4" stroke-width="1.3"/>
<line x1="536.65" y1="295.4" x2="538.95" y2="295.4" stroke="#5a5a5a" stroke-width="0.8"/>
<text class="tk" transform="translate(535.55 297.15) scale(1 1)" text-anchor="end">0.2</text>
<line x1="536.65" y1="308.61" x2="538.95" y2="308.61" stroke="#5a5a5a" stroke-width="0.8"/>
<text class="tk" transform="translate(535.55 310.36) scale(1 1)" text-anchor="end">0.175</text>
<line x1="536.65" y1="321.83" x2="538.95" y2="321.83" stroke="#5a5a5a" stroke-width="0.8"/>
<text class="tk" transform="translate(535.55 323.58) scale(1 1)" text-anchor="end">0.15</text>
<line x1="536.65" y1="335.04" x2="538.95" y2="335.04" stroke="#5a5a5a" stroke-width="0.8"/>
<text class="tk" transform="translate(535.55 336.79) scale(1 1)" text-anchor="end">0.125</text>
<line x1="536.65" y1="348.26" x2="538.95" y2="348.26" stroke="#5a5a5a" stroke-width="0.8"/>
<text class="tk" transform="translate(535.55 350.01) scale(1 1)" text-anchor="end">0.1</text>
<line x1="536.65" y1="361.47" x2="538.95" y2="361.47" stroke="#5a5a5a" stroke-width="0.8"/>
<text class="tk" transform="translate(535.55 363.22) scale(1 1)" text-anchor="end">0.075</text>
<line x1="536.65" y1="374.69" x2="538.95" y2="374.69" stroke="#5a5a5a" stroke-width="0.8"/>
<text class="tk" transform="translate(535.55 376.44) scale(1 1)" text-anchor="end">0.05</text>
<line x1="536.65" y1="387.9" x2="538.95" y2="387.9" stroke="#5a5a5a" stroke-width="0.8"/>
<text class="tk" transform="translate(535.55 389.65) scale(1 1)" text-anchor="end">0.025</text>
<line x1="575.8" y1="327.25" x2="575.8" y2="333.02" stroke="#7a7a7a" stroke-width="1.15" stroke-dasharray="1.2 0.6"/>
<line x1="575.8" y1="342.82" x2="575.8" y2="353.36" stroke="#7a7a7a" stroke-width="1.15" stroke-dasharray="1.2 0.6"/>
<line x1="567.05" y1="327.25" x2="584.55" y2="327.25" stroke="#808080" stroke-width="1.15"/>
<line x1="567.05" y1="353.36" x2="584.55" y2="353.36" stroke="#808080" stroke-width="1.15"/>
<rect x="558.2" y="333.02" width="34.9" height="9.79" fill="#5364e0"/>
<line x1="558.2" y1="337.29" x2="593.1" y2="337.29" stroke="#1b2266" stroke-width="1.25"/>
<line x1="647.86" y1="312.18" x2="647.86" y2="335.79" stroke="#7a7a7a" stroke-width="1.15" stroke-dasharray="1.2 0.6"/>
<line x1="647.86" y1="353.87" x2="647.86" y2="379.73" stroke="#7a7a7a" stroke-width="1.15" stroke-dasharray="1.2 0.6"/>
<line x1="639.11" y1="312.18" x2="656.61" y2="312.18" stroke="#808080" stroke-width="1.15"/>
<line x1="639.11" y1="379.73" x2="656.61" y2="379.73" stroke="#808080" stroke-width="1.15"/>
<rect x="630.26" y="335.79" width="34.9" height="18.08" fill="#f23a0c"/>
<line x1="630.26" y1="344.83" x2="665.16" y2="344.83" stroke="#641808" stroke-width="1.25"/>
<text class="pv" transform="translate(600.26 378.42) scale(1 1)" text-anchor="middle">p=3.61E-08</text>
<text class="ct" transform="translate(575.27 395.6) scale(1 1)" text-anchor="middle">Normal</text>
<text class="ct" transform="translate(575.27 400.1) scale(1 1)" text-anchor="middle">(n=46)</text>
<text class="ct" transform="translate(647.08 395.6) scale(1 1)" text-anchor="middle">Primary tumor</text>
<text class="ct" transform="translate(647.08 400.1) scale(1 1)" text-anchor="middle">(n=438)</text>
<text class="at" transform="translate(611.43 407.35) scale(1 1)" text-anchor="middle">TCGA samples</text>
<text class="ay" transform="translate(522.23 341.56) rotate(-90)" text-anchor="middle">Beta value</text>
</g>
<g class="bb">
<text class="mt" x="60" y="441.0" textLength="566" lengthAdjust="spacingAndGlyphs">Spearman Correlation Coefficient of methylation and gene expression.</text>
<line x1="72.45" y1="721.2" x2="72.45" y2="449.5" stroke="#c8c8c8" stroke-width="0.8" stroke-dasharray="2.6 2.75"/>
<line x1="92.47" y1="721.2" x2="92.47" y2="449.5" stroke="#c8c8c8" stroke-width="0.8" stroke-dasharray="2.6 2.75"/>
<line x1="112.49" y1="721.2" x2="112.49" y2="449.5" stroke="#c8c8c8" stroke-width="0.8" stroke-dasharray="2.6 2.75"/>
<line x1="132.51" y1="721.2" x2="132.51" y2="449.5" stroke="#c8c8c8" stroke-width="0.8" stroke-dasharray="2.6 2.75"/>
<line x1="152.53" y1="721.2" x2="152.53" y2="449.5" stroke="#c8c8c8" stroke-width="0.8" stroke-dasharray="2.6 2.75"/>
<line x1="172.55" y1="721.2" x2="172.55" y2="449.5" stroke="#c8c8c8" stroke-width="0.8" stroke-dasharray="2.6 2.75"/>
<line x1="192.57" y1="721.2" x2="192.57" y2="449.5" stroke="#c8c8c8" stroke-width="0.8" stroke-dasharray="2.6 2.75"/>
<line x1="212.59" y1="721.2" x2="212.59" y2="449.5" stroke="#c8c8c8" stroke-width="0.8" stroke-dasharray="2.6 2.75"/>
<line x1="232.61" y1="721.2" x2="232.61" y2="449.5" stroke="#c8c8c8" stroke-width="0.8" stroke-dasharray="2.6 2.75"/>
<line x1="252.63" y1="721.2" x2="252.63" y2="449.5" stroke="#c8c8c8" stroke-width="0.8" stroke-dasharray="2.6 2.75"/>
<line x1="272.65" y1="721.2" x2="272.65" y2="449.5" stroke="#c8c8c8" stroke-width="0.8" stroke-dasharray="2.6 2.75"/>
<line x1="292.67" y1="721.2" x2="292.67" y2="449.5" stroke="#c8c8c8" stroke-width="0.8" stroke-dasharray="2.6 2.75"/>
<line x1="312.69" y1="721.2" x2="312.69" y2="449.5" stroke="#c8c8c8" stroke-width="0.8" stroke-dasharray="2.6 2.75"/>
<line x1="332.71" y1="721.2" x2="332.71" y2="449.5" stroke="#c8c8c8" stroke-width="0.8" stroke-dasharray="2.6 2.75"/>
<line x1="352.73" y1="721.2" x2="352.73" y2="449.5" stroke="#c8c8c8" stroke-width="0.8" stroke-dasharray="2.6 2.75"/>
<line x1="372.75" y1="721.2" x2="372.75" y2="449.5" stroke="#c8c8c8" stroke-width="0.8" stroke-dasharray="2.6 2.75"/>
<line x1="392.77" y1="721.2" x2="392.77" y2="449.5" stroke="#c8c8c8" stroke-width="0.8" stroke-dasharray="2.6 2.75"/>
<line x1="412.79" y1="721.2" x2="412.79" y2="449.5" stroke="#c8c8c8" stroke-width="0.8" stroke-dasharray="2.6 2.75"/>
<line x1="432.81" y1="721.2" x2="432.81" y2="449.5" stroke="#c8c8c8" stroke-width="0.8" stroke-dasharray="2.6 2.75"/>
<line x1="452.83" y1="721.2" x2="452.83" y2="449.5" stroke="#c8c8c8" stroke-width="0.8" stroke-dasharray="2.6 2.75"/>
<line x1="472.85" y1="721.2" x2="472.85" y2="449.5" stroke="#c8c8c8" stroke-width="0.8" stroke-dasharray="2.6 2.75"/>
<line x1="492.87" y1="721.2" x2="492.87" y2="449.5" stroke="#c8c8c8" stroke-width="0.8" stroke-dasharray="2.6 2.75"/>
<line x1="512.89" y1="721.2" x2="512.89" y2="449.5" stroke="#c8c8c8" stroke-width="0.8" stroke-dasharray="2.6 2.75"/>
<line x1="532.91" y1="721.2" x2="532.91" y2="449.5" stroke="#c8c8c8" stroke-width="0.8" stroke-dasharray="2.6 2.75"/>
<line x1="552.93" y1="721.2" x2="552.93" y2="449.5" stroke="#c8c8c8" stroke-width="0.8" stroke-dasharray="2.6 2.75"/>
<line x1="572.95" y1="721.2" x2="572.95" y2="449.5" stroke="#c8c8c8" stroke-width="0.8" stroke-dasharray="2.6 2.75"/>
<line x1="592.97" y1="721.2" x2="592.97" y2="449.5" stroke="#c8c8c8" stroke-width="0.8" stroke-dasharray="2.6 2.75"/>
<line x1="612.99" y1="721.2" x2="612.99" y2="449.5" stroke="#c8c8c8" stroke-width="0.8" stroke-dasharray="2.6 2.75"/>
<line x1="633.01" y1="721.2" x2="633.01" y2="449.5" stroke="#c8c8c8" stroke-width="0.8" stroke-dasharray="2.6 2.75"/>
<line x1="653.03" y1="721.2" x2="653.03" y2="449.5" stroke="#c8c8c8" stroke-width="0.8" stroke-dasharray="2.6 2.75"/>
<line x1="60.55" y1="475.4" x2="664.75" y2="475.4" stroke="#c8c8c8" stroke-width="0.8" stroke-dasharray="2.6 2.75"/>
<line x1="60.55" y1="519.35" x2="664.75" y2="519.35" stroke="#c8c8c8" stroke-width="0.8" stroke-dasharray="2.6 2.75"/>
<line x1="60.55" y1="563.3" x2="664.75" y2="563.3" stroke="#c8c8c8" stroke-width="0.8" stroke-dasharray="2.6 2.75"/>
<line x1="60.55" y1="607.25" x2="664.75" y2="607.25" stroke="#c8c8c8" stroke-width="0.8" stroke-dasharray="2.6 2.75"/>
<line x1="60.55" y1="651.2" x2="664.75" y2="651.2" stroke="#c8c8c8" stroke-width="0.8" stroke-dasharray="2.6 2.75"/>
<line x1="60.55" y1="695.15" x2="664.75" y2="695.15" stroke="#c8c8c8" stroke-width="0.8" stroke-dasharray="2.6 2.75"/>
<circle cx="92.47" cy="475.4" r="5" fill="#9e72ff"/>
<circle cx="112.49" cy="475.4" r="5.5" fill="#a277ff"/>
<circle cx="132.51" cy="475.4" r="5.25" fill="#784cff"/>
<circle cx="152.53" cy="475.4" r="4.25" fill="#aa80ff"/>
<circle cx="192.57" cy="475.4" r="3.65" fill="#b189ff"/>
<circle cx="232.61" cy="475.4" r="3.95" fill="#b189ff"/>
<circle cx="312.69" cy="475.4" r="2.25" fill="#dbc3ff"/>
<circle cx="332.71" cy="475.4" r="2" fill="#e6d5ff"/>
<circle cx="372.75" cy="475.4" r="2.75" fill="#d6bbff"/>
<circle cx="512.89" cy="475.4" r="2.75" fill="#c3a1ff"/>
<circle cx="592.97" cy="475.4" r="3" fill="#ff8767"/>
<circle cx="72.45" cy="519.35" r="2.5" fill="#c29fff"/>
<circle cx="92.47" cy="519.35" r="2" fill="#eadbff"/>
<circle cx="112.49" cy="519.35" r="2.75" fill="#ddc7ff"/>
<circle cx="132.51" cy="519.35" r="2.5" fill="#d6bbff"/>
<circle cx="152.53" cy="519.35" r="2" fill="#eadbff"/>
<circle cx="212.59" cy="519.35" r="4.4" fill="#b189ff"/>
<circle cx="232.61" cy="519.35" r="2.75" fill="#d6bbff"/>
<circle cx="252.63" cy="519.35" r="3.8" fill="#683eff"/>
<circle cx="272.65" cy="519.35" r="1.75" fill="#9e72ff"/>
<circle cx="292.67" cy="519.35" r="4.65" fill="#a277ff"/>
<circle cx="332.71" cy="519.35" r="2.9" fill="#d3b7ff"/>
<circle cx="412.79" cy="519.35" r="2.75" fill="#dcc4ff"/>
<circle cx="452.83" cy="519.35" r="2.75" fill="#cfb1ff"/>
<circle cx="472.85" cy="519.35" r="2.25" fill="#d4b8ff"/>
<circle cx="592.97" cy="519.35" r="4" fill="#3a1cff"/>
<circle cx="72.45" cy="563.3" r="3" fill="#a97fff"/>
<circle cx="92.47" cy="563.3" r="2.5" fill="#dec8ff"/>
<circle cx="112.49" cy="563.3" r="2" fill="#e8d8ff"/>
<circle cx="152.53" cy="563.3" r="3.5" fill="#c5a3ff"/>
<circle cx="172.55" cy="563.3" r="3.5" fill="#4725ff"/>
<circle cx="192.57" cy="563.3" r="2.75" fill="#d0b3ff"/>
<circle cx="232.61" cy="563.3" r="2" fill="#e6d4ff"/>
<circle cx="292.67" cy="563.3" r="2.75" fill="#d6bbff"/>
<circle cx="312.69" cy="563.3" r="3" fill="#b993ff"/>
<circle cx="332.71" cy="563.3" r="2.75" fill="#d0b3ff"/>
<circle cx="352.73" cy="563.3" r="2.25" fill="#c8a8ff"/>
<circle cx="372.75" cy="563.3" r="3" fill="#cdafff"/>
<circle cx="392.77" cy="563.3" r="2.75" fill="#966aff"/>
<circle cx="432.81" cy="563.3" r="2.5" fill="#d0b3ff"/>
<circle cx="452.83" cy="563.3" r="3" fill="#c3a1ff"/>
<circle cx="532.91" cy="563.3" r="2.75" fill="#cfb1ff"/>
<circle cx="552.93" cy="563.3" r="3" fill="#4523ff"/>
<circle cx="572.95" cy="563.3" r="3.25" fill="#4b28ff"/>
<circle cx="612.99" cy="563.3" r="2" fill="#a57aff"/>
<circle cx="72.45" cy="607.25" r="4.75" fill="#0000ff"/>
<circle cx="92.47" cy="607.25" r="4" fill="#b68fff"/>
<circle cx="112.49" cy="607.25" r="5.5" fill="#a67bff"/>
<circle cx="132.51" cy="607.25" r="3.75" fill="#b088ff"/>
<circle cx="152.53" cy="607.25" r="2.75" fill="#ddc7ff"/>
<circle cx="192.57" cy="607.25" r="4" fill="#a97fff"/>
<circle cx="212.59" cy="607.25" r="3" fill="#d9c0ff"/>
<circle cx="232.61" cy="607.25" r="2" fill="#e6d4ff"/>
<circle cx="252.63" cy="607.25" r="3.25" fill="#a57aff"/>
<circle cx="272.65" cy="607.25" r="1.75" fill="#9a6dff"/>
<circle cx="292.67" cy="607.25" r="2.5" fill="#dec8ff"/>
<circle cx="312.69" cy="607.25" r="2.75" fill="#c5a3ff"/>
<circle cx="332.71" cy="607.25" r="3.75" fill="#c09cff"/>
<circle cx="352.73" cy="607.25" r="3.25" fill="#a97fff"/>
<circle cx="392.77" cy="607.25" r="2" fill="#b68fff"/>
<circle cx="412.79" cy="607.25" r="2.25" fill="#e6d4ff"/>
<circle cx="432.81" cy="607.25" r="2.25" fill="#dec8ff"/>
<circle cx="452.83" cy="607.25" r="2.25" fill="#dac2ff"/>
<circle cx="472.85" cy="607.25" r="1.75" fill="#d4b8ff"/>
<circle cx="492.87" cy="607.25" r="2.25" fill="#dec8ff"/>
<circle cx="512.89" cy="607.25" r="1.75" fill="#d9c0ff"/>
<circle cx="633.01" cy="607.25" r="2.5" fill="#a97fff"/>
<circle cx="72.45" cy="651.2" r="3.5" fill="#7a4eff"/>
<circle cx="92.47" cy="651.2" r="3.5" fill="#c5a3ff"/>
<circle cx="112.49" cy="651.2" r="3.75" fill="#c8a8ff"/>
<circle cx="132.51" cy="651.2" r="2.5" fill="#dac2ff"/>
<circle cx="152.53" cy="651.2" r="3.5" fill="#be9aff"/>
<circle cx="172.55" cy="651.2" r="2.25" fill="#966aff"/>
<circle cx="192.57" cy="651.2" r="3.25" fill="#c09cff"/>
<circle cx="212.59" cy="651.2" r="6" fill="#6d42ff"/>
<circle cx="232.61" cy="651.2" r="2.5" fill="#dec8ff"/>
<circle cx="272.65" cy="651.2" r="3" fill="#4725ff"/>
<circle cx="292.67" cy="651.2" r="3" fill="#d0b3ff"/>
<circle cx="312.69" cy="651.2" r="3" fill="#be9aff"/>
<circle cx="332.71" cy="651.2" r="2" fill="#eadbff"/>
<circle cx="352.73" cy="651.2" r="3" fill="#aa80ff"/>
<circle cx="372.75" cy="651.2" r="3.5" fill="#b993ff"/>
<circle cx="392.77" cy="651.2" r="2.25" fill="#b088ff"/>
<circle cx="412.79" cy="651.2" r="3.25" fill="#cdafff"/>
<circle cx="432.81" cy="651.2" r="2.75" fill="#c5a3ff"/>
<circle cx="452.83" cy="651.2" r="2.75" fill="#c8a8ff"/>
<circle cx="472.85" cy="651.2" r="2.25" fill="#c8a8ff"/>
<circle cx="492.87" cy="651.2" r="2.25" fill="#e3cfff"/>
<circle cx="512.89" cy="651.2" r="2" fill="#d9c0ff"/>
<circle cx="532.91" cy="651.2" r="3" fill="#c8a8ff"/>
<circle cx="653.03" cy="651.2" r="2" fill="#d6bbff"/>
<circle cx="92.47" cy="695.15" r="6.5" fill="#4e29ff"/>
<circle cx="112.49" cy="695.15" r="6" fill="#8a5dff"/>
<circle cx="132.51" cy="695.15" r="5.5" fill="#683eff"/>
<circle cx="152.53" cy="695.15" r="5.25" fill="#8e61ff"/>
<circle cx="172.55" cy="695.15" r="3.5" fill="#2610ff"/>
<circle cx="192.57" cy="695.15" r="4.5" fill="#9b6fff"/>
<circle cx="212.59" cy="695.15" r="5" fill="#9e72ff"/>
<circle cx="232.61" cy="695.15" r="4.5" fill="#9c70ff"/>
<circle cx="252.63" cy="695.15" r="3.5" fill="#a074ff"/>
<circle cx="292.67" cy="695.15" r="4" fill="#b58dff"/>
<circle cx="312.69" cy="695.15" r="3" fill="#c09cff"/>
<circle cx="332.71" cy="695.15" r="3.75" fill="#c3a1ff"/>
<circle cx="352.73" cy="695.15" r="1.75" fill="#e3cfff"/>
<circle cx="372.75" cy="695.15" r="3.5" fill="#b993ff"/>
<circle cx="412.79" cy="695.15" r="4.75" fill="#9f73ff"/>
<circle cx="432.81" cy="695.15" r="3.25" fill="#b58dff"/>
<circle cx="472.85" cy="695.15" r="2.25" fill="#c3a1ff"/>
<circle cx="492.87" cy="695.15" r="4" fill="#996cff"/>
<circle cx="532.91" cy="695.15" r="2.5" fill="#d6bbff"/>
<circle cx="592.97" cy="695.15" r="2.25" fill="#b58dff"/>
<rect x="60.55" y="449.5" width="604.2" height="271.70000000000005" fill="none" stroke="#484848" stroke-width="1.1"/>
<line x1="57.349999999999994" y1="475.4" x2="60.55" y2="475.4" stroke="#333" stroke-width="1.1"/>
<text class="ax" x="56.25" y="479" text-anchor="end">MCM3</text>
<line x1="57.349999999999994" y1="519.35" x2="60.55" y2="519.35" stroke="#333" stroke-width="1.1"/>
<text class="ax" x="56.25" y="522.95" text-anchor="end">MCM6</text>
<line x1="57.349999999999994" y1="563.3" x2="60.55" y2="563.3" stroke="#333" stroke-width="1.1"/>
<text class="ax" x="56.25" y="566.9" text-anchor="end">MCM4</text>
<line x1="57.349999999999994" y1="607.25" x2="60.55" y2="607.25" stroke="#333" stroke-width="1.1"/>
<text class="ax" x="56.25" y="610.85" text-anchor="end">MCM5</text>
<line x1="57.349999999999994" y1="651.2" x2="60.55" y2="651.2" stroke="#333" stroke-width="1.1"/>
<text class="ax" x="56.25" y="654.8" text-anchor="end">MCM7</text>
<line x1="57.349999999999994" y1="695.15" x2="60.55" y2="695.15" stroke="#333" stroke-width="1.1"/>
<text class="ax" x="56.25" y="698.75" text-anchor="end">MCM2</text>
<line x1="72.45" y1="721.2" x2="72.45" y2="723.9000000000001" stroke="#333" stroke-width="1.1"/>
<text class="axx" transform="translate(76.15 730.6) rotate(-45)" text-anchor="end">TGCT</text>
<line x1="92.47" y1="721.2" x2="92.47" y2="723.9000000000001" stroke="#333" stroke-width="1.1"/>
<text class="axx" transform="translate(96.17 730.6) rotate(-45)" text-anchor="end">HNSC</text>
<line x1="112.49" y1="721.2" x2="112.49" y2="723.9000000000001" stroke="#333" stroke-width="1.1"/>
<text class="axx" transform="translate(116.19 730.6) rotate(-45)" text-anchor="end">BRCA</text>
<line x1="132.51" y1="721.2" x2="132.51" y2="723.9000000000001" stroke="#333" stroke-width="1.1"/>
<text class="axx" transform="translate(136.21 730.6) rotate(-45)" text-anchor="end">LIHC</text>
<line x1="152.53" y1="721.2" x2="152.53" y2="723.9000000000001" stroke="#333" stroke-width="1.1"/>
<text class="axx" transform="translate(156.23 730.6) rotate(-45)" text-anchor="end">SKCM</text>
<line x1="172.55" y1="721.2" x2="172.55" y2="723.9000000000001" stroke="#333" stroke-width="1.1"/>
<text class="axx" transform="translate(176.25 730.6) rotate(-45)" text-anchor="end">UVM</text>
<line x1="192.57" y1="721.2" x2="192.57" y2="723.9000000000001" stroke="#333" stroke-width="1.1"/>
<text class="axx" transform="translate(196.27 730.6) rotate(-45)" text-anchor="end">LUSC</text>
<line x1="212.59" y1="721.2" x2="212.59" y2="723.9000000000001" stroke="#333" stroke-width="1.1"/>
<text class="axx" transform="translate(216.29 730.6) rotate(-45)" text-anchor="end">LGG</text>
<line x1="232.61" y1="721.2" x2="232.61" y2="723.9000000000001" stroke="#333" stroke-width="1.1"/>
<text class="axx" transform="translate(236.31 730.6) rotate(-45)" text-anchor="end">BLCA</text>
<line x1="252.63" y1="721.2" x2="252.63" y2="723.9000000000001" stroke="#333" stroke-width="1.1"/>
<text class="axx" transform="translate(256.33 730.6) rotate(-45)" text-anchor="end">PAAD</text>
<line x1="272.65" y1="721.2" x2="272.65" y2="723.9000000000001" stroke="#333" stroke-width="1.1"/>
<text class="axx" transform="translate(276.35 730.6) rotate(-45)" text-anchor="end">GBM</text>
<line x1="292.67" y1="721.2" x2="292.67" y2="723.9000000000001" stroke="#333" stroke-width="1.1"/>
<text class="axx" transform="translate(296.37 730.6) rotate(-45)" text-anchor="end">PRAD</text>
<line x1="312.69" y1="721.2" x2="312.69" y2="723.9000000000001" stroke="#333" stroke-width="1.1"/>
<text class="axx" transform="translate(316.39 730.6) rotate(-45)" text-anchor="end">COAD</text>
<line x1="332.71" y1="721.2" x2="332.71" y2="723.9000000000001" stroke="#333" stroke-width="1.1"/>
<text class="axx" transform="translate(336.41 730.6) rotate(-45)" text-anchor="end">THCA</text>
<line x1="352.73" y1="721.2" x2="352.73" y2="723.9000000000001" stroke="#333" stroke-width="1.1"/>
<text class="axx" transform="translate(356.43 730.6) rotate(-45)" text-anchor="end">ESCA</text>
<line x1="372.75" y1="721.2" x2="372.75" y2="723.9000000000001" stroke="#333" stroke-width="1.1"/>
<text class="axx" transform="translate(376.45 730.6) rotate(-45)" text-anchor="end">STAD</text>
<line x1="392.77" y1="721.2" x2="392.77" y2="723.9000000000001" stroke="#333" stroke-width="1.1"/>
<text class="axx" transform="translate(396.47 730.6) rotate(-45)" text-anchor="end">READ</text>
<line x1="412.79" y1="721.2" x2="412.79" y2="723.9000000000001" stroke="#333" stroke-width="1.1"/>
<text class="axx" transform="translate(416.49 730.6) rotate(-45)" text-anchor="end">LUAD</text>
<line x1="432.81" y1="721.2" x2="432.81" y2="723.9000000000001" stroke="#333" stroke-width="1.1"/>
<text class="axx" transform="translate(436.51 730.6) rotate(-45)" text-anchor="end">SARC</text>
<line x1="452.83" y1="721.2" x2="452.83" y2="723.9000000000001" stroke="#333" stroke-width="1.1"/>
<text class="axx" transform="translate(456.53 730.6) rotate(-45)" text-anchor="end">KIRP</text>
<line x1="472.85" y1="721.2" x2="472.85" y2="723.9000000000001" stroke="#333" stroke-width="1.1"/>
<text class="axx" transform="translate(476.55 730.6) rotate(-45)" text-anchor="end">LAML</text>
<line x1="492.87" y1="721.2" x2="492.87" y2="723.9000000000001" stroke="#333" stroke-width="1.1"/>
<text class="axx" transform="translate(496.57 730.6) rotate(-45)" text-anchor="end">CESC</text>
<line x1="512.89" y1="721.2" x2="512.89" y2="723.9000000000001" stroke="#333" stroke-width="1.1"/>
<text class="axx" transform="translate(516.59 730.6) rotate(-45)" text-anchor="end">UCEC</text>
<line x1="532.91" y1="721.2" x2="532.91" y2="723.9000000000001" stroke="#333" stroke-width="1.1"/>
<text class="axx" transform="translate(536.61 730.6) rotate(-45)" text-anchor="end">KIRC</text>
<line x1="552.93" y1="721.2" x2="552.93" y2="723.9000000000001" stroke="#333" stroke-width="1.1"/>
<text class="axx" transform="translate(556.63 730.6) rotate(-45)" text-anchor="end">DLBC</text>
<line x1="572.95" y1="721.2" x2="572.95" y2="723.9000000000001" stroke="#333" stroke-width="1.1"/>
<text class="axx" transform="translate(576.65 730.6) rotate(-45)" text-anchor="end">UCS</text>
<line x1="592.97" y1="721.2" x2="592.97" y2="723.9000000000001" stroke="#333" stroke-width="1.1"/>
<text class="axx" transform="translate(596.67 730.6) rotate(-45)" text-anchor="end">THYM</text>
<line x1="612.99" y1="721.2" x2="612.99" y2="723.9000000000001" stroke="#333" stroke-width="1.1"/>
<text class="axx" transform="translate(616.69 730.6) rotate(-45)" text-anchor="end">KICH</text>
<line x1="633.01" y1="721.2" x2="633.01" y2="723.9000000000001" stroke="#333" stroke-width="1.1"/>
<text class="axx" transform="translate(636.71 730.6) rotate(-45)" text-anchor="end">MESO</text>
<line x1="653.03" y1="721.2" x2="653.03" y2="723.9000000000001" stroke="#333" stroke-width="1.1"/>
<text class="axx" transform="translate(656.73 730.6) rotate(-45)" text-anchor="end">PCPG</text>
<text class="al" transform="translate(24.9 585) rotate(-90)" text-anchor="middle">Symbol</text>
<text class="al" x="362.5" y="758.9" text-anchor="middle">Cancer types</text>
<text class="lt" x="116" y="795.9">Spearman Correlation Coefficient</text>
<defs><linearGradient id="cg" x1="0" x2="1" y1="0" y2="0"><stop offset="0" stop-color="#0000ff"/><stop offset="0.04" stop-color="#4121ff"/><stop offset="0.08" stop-color="#5d35ff"/><stop offset="0.12" stop-color="#7246ff"/><stop offset="0.17" stop-color="#8356ff"/><stop offset="0.21" stop-color="#9366ff"/><stop offset="0.25" stop-color="#a176ff"/><stop offset="0.29" stop-color="#ae85ff"/><stop offset="0.33" stop-color="#ba94ff"/><stop offset="0.38" stop-color="#c6a4ff"/><stop offset="0.42" stop-color="#d0b3ff"/><stop offset="0.46" stop-color="#dbc3ff"/><stop offset="0.5" stop-color="#e5d2ff"/><stop offset="0.54" stop-color="#efe2ff"/><stop offset="0.58" stop-color="#f8f2ff"/><stop offset="0.62" stop-color="#fffdfc"/><stop offset="0.67" stop-color="#fff0ea"/><stop offset="0.71" stop-color="#ffe3d9"/><stop offset="0.75" stop-color="#ffd6c7"/><stop offset="0.79" stop-color="#ffc9b6"/><stop offset="0.83" stop-color="#ffbca6"/><stop offset="0.88" stop-color="#ffae95"/><stop offset="0.92" stop-color="#ffa185"/><stop offset="0.96" stop-color="#ff9375"/><stop offset="1" stop-color="#ff8565"/></linearGradient></defs>
<rect x="284.5" y="776.7" width="79.25" height="15.75" fill="url(#cg)"/>
<line x1="290.5" y1="776.7" x2="290.5" y2="779.8" stroke="#fff" stroke-width="0.75" stroke-opacity="0.85"/>
<line x1="290.5" y1="789.35" x2="290.5" y2="792.45" stroke="#fff" stroke-width="0.75" stroke-opacity="0.85"/>
<text class="ll" x="290.5" y="804.7" text-anchor="middle">-0.6</text>
<line x1="304.8" y1="776.7" x2="304.8" y2="779.8" stroke="#fff" stroke-width="0.75" stroke-opacity="0.85"/>
<line x1="304.8" y1="789.35" x2="304.8" y2="792.45" stroke="#fff" stroke-width="0.75" stroke-opacity="0.85"/>
<text class="ll" x="304.8" y="804.7" text-anchor="middle">-0.4</text>
<line x1="319.1" y1="776.7" x2="319.1" y2="779.8" stroke="#fff" stroke-width="0.75" stroke-opacity="0.85"/>
<line x1="319.1" y1="789.35" x2="319.1" y2="792.45" stroke="#fff" stroke-width="0.75" stroke-opacity="0.85"/>
<text class="ll" x="319.1" y="804.7" text-anchor="middle">-0.2</text>
<line x1="333.4" y1="776.7" x2="333.4" y2="779.8" stroke="#fff" stroke-width="0.75" stroke-opacity="0.85"/>
<line x1="333.4" y1="789.35" x2="333.4" y2="792.45" stroke="#fff" stroke-width="0.75" stroke-opacity="0.85"/>
<text class="ll" x="333.4" y="804.7" text-anchor="middle">0.0</text>
<line x1="347.7" y1="776.7" x2="347.7" y2="779.8" stroke="#fff" stroke-width="0.75" stroke-opacity="0.85"/>
<line x1="347.7" y1="789.35" x2="347.7" y2="792.45" stroke="#fff" stroke-width="0.75" stroke-opacity="0.85"/>
<text class="ll" x="347.7" y="804.7" text-anchor="middle">0.2</text>
<text class="ll" x="362" y="804.7" text-anchor="middle">0.4</text>
<text class="lt" x="383.6" y="788.7">-Log10(P.value)</text>
<rect x="467.25" y="776.35" width="16.4" height="16.4" fill="#fff" stroke="#333" stroke-width="1"/>
<circle cx="475.45" cy="784.5" r="3.6" fill="#000"/>
<text class="ll" x="489.4" y="787.7">10</text>
<rect x="504" y="776.35" width="16.4" height="16.4" fill="#fff" stroke="#333" stroke-width="1"/>
<circle cx="512.2" cy="784.5" r="4.65" fill="#000"/>
<text class="ll" x="525.6" y="787.7">20</text>
<rect x="541.05" y="776.35" width="16.4" height="16.4" fill="#fff" stroke="#333" stroke-width="1"/>
<circle cx="549.25" cy="784.5" r="5.65" fill="#000"/>
<text class="ll" x="562.6" y="787.7">30</text>
<rect x="577.45" y="776.35" width="16.4" height="16.4" fill="#fff" stroke="#333" stroke-width="1"/>
<circle cx="585.65" cy="784.5" r="6.15" fill="#000"/>
<text class="ll" x="599" y="787.7">40</text>
</g>
<text class="pl" x="1.6" y="11.5">A</text>
<text class="pl" x="1.9" y="424.6">B</text>
</svg>
</body>
</html>
